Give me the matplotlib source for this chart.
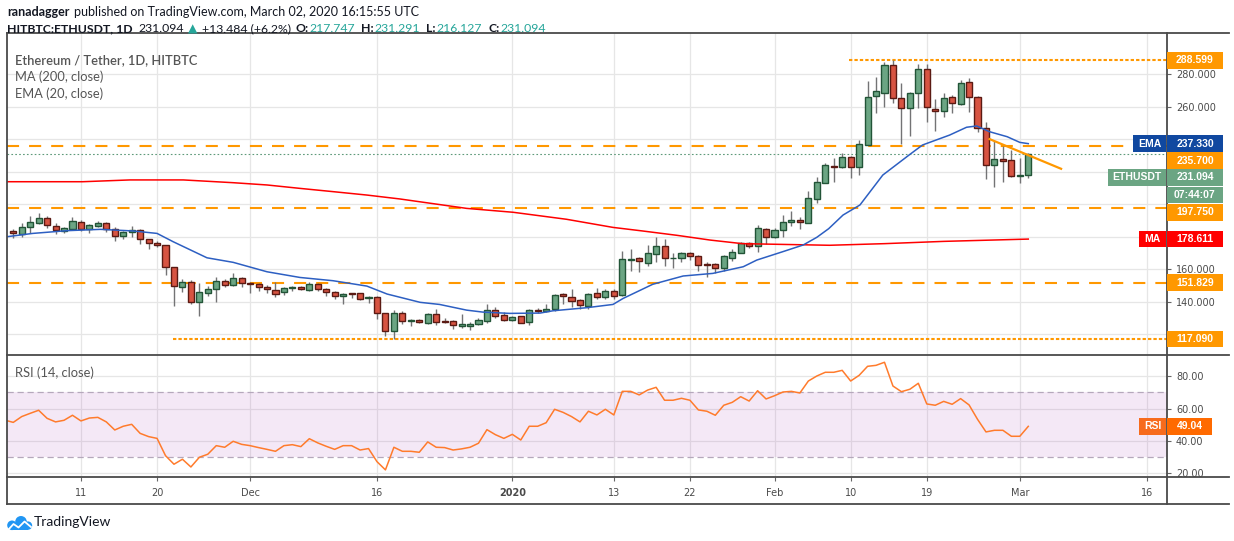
import matplotlib
matplotlib.use('Agg')
import matplotlib.pyplot as plt
from matplotlib.lines import Line2D
from matplotlib.patches import Rectangle, Circle

# daily candles HITBTC:ETHUSDT, 3 Nov 2019 .. 2 Mar 2020
opens = [183.6, 181.5, 185.8, 188.7, 191.4, 186.9, 183.8, 185.0, 188.9, 185.0,
         186.9, 188.3, 185.0, 180.3, 182.7, 184.0, 178.4, 176.2, 174.7, 161.2,
         149.3, 152.0, 140.1, 145.6, 147.7, 152.6, 150.5, 154.4, 151.4, 150.7,
         148.9, 147.0, 145.8, 148.3, 148.9, 147.5, 150.7, 147.7, 145.8, 143.4,
         145.2, 145.2, 142.1, 142.7, 132.9, 122.0, 132.9, 128.2, 128.8, 127.2,
         132.3, 128.4, 128.0, 125.3, 125.3, 126.5, 128.0, 134.7, 131.7, 129.0,
         131.0, 127.4, 134.9, 134.1, 135.4, 144.6, 142.7, 140.9, 137.6, 145.2,
         142.7, 146.8, 144.0, 165.5, 166.7, 164.1, 169.6, 174.1, 166.7, 167.2,
         169.8, 168.0, 163.3, 163.1, 160.6, 167.2, 170.2, 176.0, 174.3, 184.6,
         180.1, 184.0, 188.9, 190.3, 188.7, 203.5, 213.3, 223.4, 223.2, 228.9,
         223.2, 236.7, 266.9, 268.7, 285.7, 265.2, 259.1, 268.3, 283.1, 258.4,
         257.2, 265.8, 261.5, 275.1, 265.8, 246.7, 224.0, 227.7, 227.1, 217.7,
         217.747]
highs = [184.8, 188.7, 192.8, 194.4, 192.8, 188.7, 186.2, 192.0, 190.3, 188.1,
         189.5, 189.1, 186.2, 183.8, 186.6, 184.6, 178.9, 177.4, 174.9, 161.5,
         153.8, 153.4, 151.4, 149.7, 155.4, 153.8, 157.5, 155.4, 152.0, 151.8,
         150.3, 152.2, 149.3, 149.5, 149.5, 152.0, 151.8, 148.5, 146.4, 145.6,
         145.4, 145.6, 143.8, 143.4, 133.2, 134.9, 134.1, 129.4, 129.2, 133.3,
         135.6, 130.0, 128.8, 132.5, 127.8, 129.8, 138.6, 136.6, 133.7, 131.4,
         131.4, 135.4, 136.2, 138.6, 144.8, 145.2, 147.9, 141.7, 145.6, 148.7,
         147.7, 147.7, 171.3, 172.5, 167.8, 174.9, 179.7, 178.4, 169.8, 170.9,
         170.9, 169.0, 164.5, 163.7, 168.8, 172.5, 177.0, 177.0, 187.3, 185.2,
         185.2, 193.4, 195.9, 192.4, 208.2, 217.0, 225.6, 228.3, 231.4, 229.7,
         239.6, 275.9, 278.5, 287.4, 288.6, 274.8, 269.3, 286.3, 286.3, 264.8,
         268.3, 267.2, 276.5, 277.5, 266.6, 250.8, 239.2, 235.9, 233.4, 228.3,
         231.291]
lows = [179.1, 180.1, 182.5, 187.7, 185.2, 181.5, 182.5, 184.2, 183.6, 182.5,
        185.8, 183.2, 177.4, 178.9, 180.1, 175.4, 172.7, 173.9, 156.7, 137.6,
        146.2, 138.6, 131.4, 143.8, 140.1, 148.9, 149.7, 149.3, 145.6, 146.8,
        145.6, 143.2, 144.0, 146.6, 147.0, 146.4, 146.6, 143.8, 141.7, 138.6,
        142.5, 141.1, 139.4, 129.4, 119.2, 117.1, 126.1, 125.3, 126.7, 126.3,
        125.9, 126.7, 123.5, 123.9, 122.6, 125.7, 127.2, 130.0, 128.0, 128.4,
        126.7, 125.9, 133.1, 133.7, 134.5, 138.8, 137.0, 135.4, 135.4, 141.9,
        141.9, 141.9, 143.8, 159.2, 158.5, 162.2, 164.3, 162.2, 161.0, 164.7,
        165.7, 159.2, 155.5, 157.9, 159.2, 165.3, 169.8, 173.3, 170.9, 175.4,
        179.3, 179.7, 186.9, 184.8, 188.3, 201.0, 213.1, 213.9, 222.1, 216.4,
        218.0, 236.7, 256.4, 260.1, 262.1, 237.1, 242.2, 259.1, 250.8, 245.3,
        253.9, 256.4, 261.1, 257.0, 244.7, 215.8, 210.4, 213.9, 217.0, 212.9,
        216.127]
closes = [182.1, 185.8, 188.9, 191.4, 187.1, 184.0, 185.2, 189.5, 184.8, 187.1,
          188.3, 185.0, 180.3, 182.7, 184.0, 178.4, 176.0, 174.7, 161.2, 149.5,
          152.0, 140.1, 145.8, 147.9, 152.6, 150.5, 154.4, 151.4, 150.7, 148.9,
          147.7, 145.0, 148.5, 149.1, 147.7, 150.7, 147.7, 145.8, 143.4, 144.6,
          144.8, 141.9, 142.9, 132.9, 122.2, 132.9, 128.0, 129.0, 127.4, 132.5,
          127.8, 127.8, 125.5, 126.1, 126.1, 128.6, 134.7, 131.4, 129.0, 130.4,
          127.2, 134.7, 134.3, 135.4, 144.0, 143.4, 140.3, 137.8, 144.6, 142.7,
          146.8, 143.8, 166.1, 166.3, 164.9, 169.8, 174.1, 167.2, 166.9, 169.8,
          168.4, 162.4, 162.6, 160.6, 168.0, 170.4, 176.0, 174.1, 185.2, 179.7,
          184.2, 189.1, 190.3, 188.9, 203.7, 213.5, 224.2, 223.0, 228.9, 223.2,
          236.9, 265.8, 269.5, 285.7, 265.2, 259.1, 268.3, 283.1, 259.7, 257.6,
          265.2, 262.1, 274.4, 265.8, 246.7, 224.0, 227.7, 226.4, 217.6, 217.9,
          231.094]

# RSI(14) per day, first value belongs to the day before the first candle
rsi = [52.9,
       51.5, 55.1, 57.1, 59.0, 54.0, 51.8, 52.8, 55.9, 52.4, 54.2,
       54.6, 51.8, 46.8, 49.1, 50.3, 44.7, 42.7, 41.6, 30.9, 25.6,
       28.7, 23.9, 29.9, 31.8, 37.1, 36.1, 39.8, 37.9, 37.1, 35.9,
       34.8, 33.6, 37.1, 37.7, 36.5, 41.4, 38.8, 36.7, 34.8, 37.1,
       37.1, 34.4, 35.3, 27.2, 22.1, 36.1, 33.6, 33.6, 33.0, 39.4,
       36.1, 35.9, 34.4, 35.1, 36.1, 38.6, 47.0, 43.9, 41.6, 44.1,
       40.6, 49.1, 49.1, 51.3, 59.6, 57.7, 55.1, 51.8, 58.4, 56.1,
       59.6, 56.1, 70.7, 70.7, 68.5, 71.5, 73.2, 65.2, 65.2, 66.4,
       65.2, 59.2, 58.4, 55.9, 62.1, 63.9, 67.4, 64.7, 71.1, 66.0,
       68.0, 70.3, 70.7, 69.7, 77.1, 80.2, 82.5, 82.5, 83.7, 77.1,
       80.6, 86.2, 86.8, 88.7, 74.0, 70.5, 72.0, 75.7, 62.9, 62.1,
       64.5, 62.7, 66.2, 62.3, 53.4, 45.6, 46.6, 46.6, 42.9, 42.9,
       49.04]

# EMA(20) and MA(200) read at points along the lines (day index, value)
ema_days = [-1, 2.3, 6.4, 10.3, 14.2, 17.0, 18.9, 22.9, 26.0, 30.0,
            33.9, 37.8, 41.8, 44.2, 48.1, 50.4, 53.6, 55.5, 58.7, 62.3,
            63.8, 67.8, 70.9, 72.1, 75.6, 79.2, 82.7, 86.3, 87.9, 91.0,
            93.4, 95.0, 96.4, 98.1, 100.1, 102.8, 106.0, 107.5, 110.7, 112.7,
            113.9, 115.4, 117.5, 119.0, 120]
ema_vals = [179.9, 182.1, 183.8, 184.6, 183.6, 182.1, 177.0, 167.1, 164.3, 158.5,
            155.0, 153.0, 149.7, 144.8, 139.7, 138.4, 134.9, 133.7, 132.9, 133.1,
            134.5, 136.4, 138.4, 142.1, 150.8, 155.9, 157.5, 161.6, 165.7, 170.9,
            175.0, 179.7, 185.0, 193.4, 199.6, 218.0, 230.7, 236.5, 242.6, 247.4,
            248.2, 244.7, 241.6, 238.1, 237.33]
ma_days = [-1, 8.2, 13.8, 20.1, 26.0, 30.0, 33.9, 37.8, 41.8, 45.7, 53.6, 59.1,
           65.4, 70.9, 74.4, 78.5, 82.4, 86.2, 90.3, 96.5, 103.0, 110.0, 120]
ma_vals = [213.9, 213.9, 215.0, 215.0, 213.3, 211.9, 209.8, 207.8, 205.7, 203.3, 197.5, 195.1,
           190.8, 185.8, 183.6, 180.9, 178.0, 175.8, 175.4, 174.8, 175.8, 177.2, 178.611]

# drawn levels
levels_dashed = [235.7, 197.75, 151.829]
level_top = 288.599
level_top_from = 98.8
level_bottom = 117.09
level_bottom_from = 18.9
trend_days = [115.3, 124.0]
trend_vals = [240.4, 221.6]

tick_days = [8, 17, 28, 43, 59, 71, 80, 90, 99, 108, 119, 134]
tick_labels = ['11', '20', 'Dec', '16', '2020', '13', '22', 'Feb', '10', '19', 'Mar', '16']
price_ticks = [140, 160, 260, 280]
rsi_ticks = [20, 40, 60, 80]

W, H = 1234, 541
ORANGE = '#FF9800'
GRID = '#E6E6E6'
BORDER = '#4A4A4A'
AXTXT = '#4A4A4A'


def fx(px):
    return px / W


def fy(py):
    return 1 - py / H


plt.rcParams['font.family'] = ['Lato', 'DejaVu Sans']

fig = plt.figure(figsize=(W / 100, H / 100), dpi=100)
fig.patch.set_facecolor('white')
renderer = fig.canvas.get_renderer()

ax = fig.add_axes([fx(6.5), fy(355), (1167 - 6.5) / W, (355 - 32.5) / H])
ax_rsi = fig.add_axes([fx(6.5), fy(477), (1167 - 6.5) / W, (477 - 355) / H])

for a in (ax, ax_rsi):
    a.set_xlim(-0.8, 136.4)
    for s in a.spines.values():
        s.set_visible(False)
    for d in tick_days:
        a.axvline(d, color=GRID, lw=0.9, zorder=0)
ax.set_ylim(107.3, 305.7)
ax_rsi.set_ylim(17.7, 93.2)

for g in range(120, 300, 20):
    ax.axhline(g, color=GRID, lw=0.9, zorder=0)
for g in rsi_ticks:
    ax_rsi.axhline(g, color=GRID, lw=0.9, zorder=0)

# levels
for lv in levels_dashed:
    ax.axhline(lv, color=ORANGE, lw=1.5, ls=(0, (5.8, 4.8)), zorder=2)
ax.hlines(level_top, level_top_from, 136.4, color=ORANGE, lw=1.5, ls=(0, (1.6, 1.0)), zorder=2)
ax.hlines(level_bottom, level_bottom_from, 136.4, color=ORANGE, lw=1.5, ls=(0, (1.6, 1.0)), zorder=2)
ax.axhline(closes[-1], color='#5E9A7A', lw=0.8, ls=(0, (1.5, 2)), zorder=2)

# candles
days = list(range(len(opens)))
ax.vlines(days, lows, highs, color='#737375', lw=1, zorder=3)
bottoms = [min(o, c) for o, c in zip(opens, closes)]
heights = [max(abs(c - o), 0.35) for o, c in zip(opens, closes)]
faces = ['#6BA583' if c >= o else '#D75442' for o, c in zip(opens, closes)]
edges = ['#225437' if c >= o else '#5B1A13' for o, c in zip(opens, closes)]
ax.bar(days, heights, bottom=bottoms, width=0.72, color=faces, edgecolor=edges,
       linewidth=1, zorder=4)

ax.plot(ma_days, ma_vals, color='#FF0000', lw=1.1, zorder=5)
ax.plot(ema_days, ema_vals, color='#2D5FC2', lw=1.1, zorder=5)
ax.plot(trend_days, trend_vals, color=ORANGE, lw=1.6, zorder=6, solid_capstyle='butt')

# rsi pane
ax_rsi.axhspan(30, 70, color='#9C27B0', alpha=0.1, lw=0, zorder=1)
for lv in (70, 30):
    ax_rsi.axhline(lv, color='#B5A8BC', lw=0.9, ls=(0, (5, 3)), zorder=2)
ax_rsi.plot(range(-1, len(rsi) - 1), rsi, color='#FF7B2C', lw=1.1, zorder=3)

# axis ticks / labels
ax.yaxis.tick_right()
ax.set_yticks(price_ticks)
ax.set_yticklabels(['%.3f' % v for v in price_ticks])
ax.tick_params(axis='y', length=3, width=0.8, color='#666', labelcolor=AXTXT, labelsize=7, pad=3.5)
ax.tick_params(axis='x', bottom=False, labelbottom=False)
ax_rsi.yaxis.tick_right()
ax_rsi.set_yticks(rsi_ticks)
ax_rsi.set_yticklabels(['%.2f' % v for v in rsi_ticks])
ax_rsi.tick_params(axis='y', length=3, width=0.8, color='#666', labelcolor=AXTXT, labelsize=7, pad=3.5)
ax_rsi.set_xticks(tick_days)
ax_rsi.set_xticklabels(tick_labels)
ax_rsi.tick_params(axis='x', length=3, width=0.8, color='#666', labelcolor=AXTXT, labelsize=7, pad=5)
for lbl in ax.get_yticklabels() + ax_rsi.get_yticklabels() + ax_rsi.get_xticklabels():
    lbl.set_fontfamily('DejaVu Sans')
    if lbl.get_text() == '2020':
        lbl.set_fontweight('bold')


# pane borders
def hline(y, x0=6.5, x1=1229):
    fig.add_artist(Line2D([fx(x0), fx(x1)], [fy(y), fy(y)], color=BORDER, lw=1.3))


def vline(x, y0=32.5, y1=504):
    fig.add_artist(Line2D([fx(x), fx(x)], [fy(y0), fy(y1)], color=BORDER, lw=1.3))


for y in (32.5, 355, 477, 504):
    hline(y)
vline(6.5)
vline(1167)


def price_y(a, v):
    return H - a.transData.transform((0, v))[1]


def tag(x0, x1, yc, text, color):
    fig.add_artist(Rectangle((fx(x0), fy(yc + 8.4)), (x1 - x0) / W, 16.8 / H,
                             transform=fig.transFigure, color=color, lw=0, zorder=10))
    fig.text(fx((x0 + x1) / 2), fy(yc), text, color='white', fontsize=7.5, weight='bold',
             family='Liberation Sans', ha='center', va='center', zorder=11)


tag(1167, 1223, price_y(ax, level_top), '%.3f' % level_top, ORANGE)
tag(1133, 1166, price_y(ax, ema_vals[-1]), 'EMA', '#1048A0')
tag(1167, 1223, price_y(ax, ema_vals[-1]), '%.3f' % ema_vals[-1], '#1048A0')
tag(1167, 1223, 160.5, '%.3f' % levels_dashed[0], ORANGE)
tag(1108, 1166, 177.5, 'ETHUSDT', '#6BA583')
tag(1167, 1223, 177.5, '%.3f' % closes[-1], '#6BA583')
tag(1167, 1223, 195, '07:44:07', '#6BA583')
tag(1167, 1223, 212.3, '%.3f' % levels_dashed[1], ORANGE)
tag(1139, 1166, price_y(ax, ma_vals[-1]), 'MA', '#FF0000')
tag(1167, 1223, price_y(ax, ma_vals[-1]), '%.3f' % ma_vals[-1], '#FF0000')
tag(1167, 1223, price_y(ax, levels_dashed[2]), '%.3f' % levels_dashed[2], ORANGE)
tag(1167, 1223, price_y(ax, level_bottom), '%.3f' % level_bottom, ORANGE)
tag(1139, 1166, price_y(ax_rsi, rsi[-1]), 'RSI', '#F76B1C')
tag(1167, 1212, price_y(ax_rsi, rsi[-1]), '%.2f' % rsi[-1], '#FF6A00')

# pane legends
LEG = '#555555'
fig.text(fx(15), fy(60), 'Ethereum / Tether, 1D, HITBTC', fontsize=9.3, color=LEG,
         weight='semibold', va='center')
fig.text(fx(15), fy(77), 'MA (200, close)', fontsize=9.3, color=LEG, va='center')
fig.text(fx(15), fy(94), 'EMA (20, close)', fontsize=9.3, color=LEG, va='center')
fig.text(fx(15), fy(373), 'RSI (14, close)', fontsize=9.3, color=LEG, va='center')


# header: pieces set one after another, gap in pixels after each piece
def chain(x, y, parts, size):
    for s, c, w, gap in parts:
        t = fig.text(fx(x), fy(y), s, fontsize=size, weight=w, color=c, va='center')
        x += t.get_window_extent(renderer).width + gap


DARK = '#131722'
TEAL = '#26A69A'
chain(7, 12, [('ranadagger', DARK, 'bold', 4),
              ('published on TradingView.com, March 02, 2020 16:15:55 UTC', DARK, 'normal', 0)], 9)
chain(7, 29, [('HITBTC:ETHUSDT, 1D', DARK, 'bold', 6),
              ('231.094', DARK, 'normal', 4),
              ('\u25b2', TEAL, 'normal', 5),
              ('+13.484 (+6.2%)', DARK, 'normal', 4),
              ('O:', DARK, 'bold', 1),
              ('217.747', TEAL, 'normal', 6),
              ('H:', DARK, 'bold', 1),
              ('231.291', TEAL, 'normal', 6),
              ('L:', DARK, 'bold', 1),
              ('216.127', TEAL, 'normal', 6),
              ('C:', DARK, 'bold', 1),
              ('231.094', TEAL, 'normal', 0)], 8.8)

# TradingView logo
ax_logo = fig.add_axes([fx(4), fy(534), 32 / W, 22 / H])
ax_logo.set_xlim(4, 36)
ax_logo.set_ylim(534, 512)
ax_logo.axis('off')
BLUE = '#2196F3'
ax_logo.add_patch(Circle((12, 525.3), 4.8, color=BLUE, lw=0))
ax_logo.add_patch(Circle((21, 521.8), 5.8, color=BLUE, lw=0))
ax_logo.add_patch(Circle((28, 525.6), 4.2, color=BLUE, lw=0))
ax_logo.add_patch(Rectangle((12, 525.3), 16, 4.6, color=BLUE, lw=0))
ax_logo.plot([8.5, 13.5, 18.5, 24.5, 31], [529.5, 524, 527.5, 521.5, 527],
             color='white', lw=1.3, solid_joinstyle='round')
fig.text(fx(34), fy(522), 'TradingView', fontsize=10, color=DARK, va='center')

fig.savefig('out.png', dpi=100, facecolor='white')
